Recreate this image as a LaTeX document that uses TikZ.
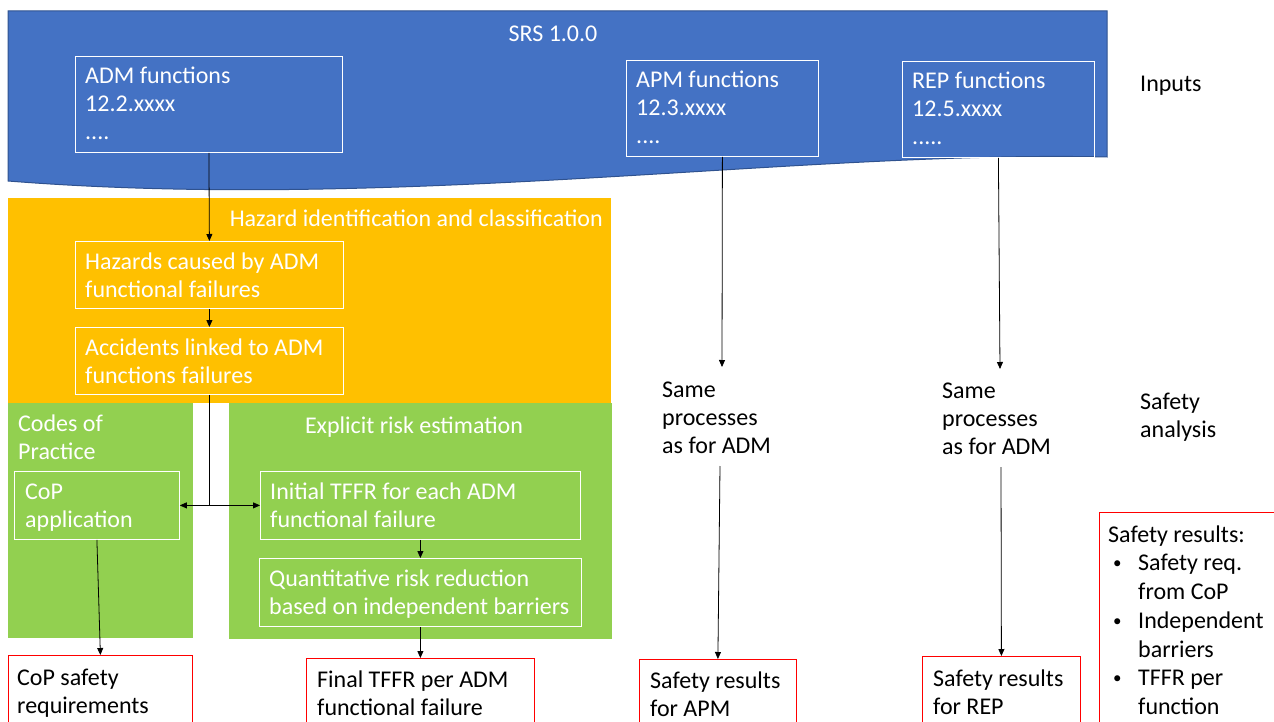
\documentclass[tikz,border=0pt]{standalone}
\usepackage{fontspec}
\setmainfont{Carlito}
\usetikzlibrary{arrows.meta}
\definecolor{srsblue}{HTML}{4472C4}
\definecolor{srsedge}{HTML}{2F528F}
\definecolor{hazorange}{HTML}{FFC000}
\definecolor{riskgreen}{HTML}{92D050}
\newcommand{\listbullet}{\hspace*{5pt}\makebox[25pt][l]{\raisebox{2pt}{\fontsize{17}{17}\selectfont\textbullet}}}
\begin{document}
\begin{tikzpicture}[x=1pt,y=-1pt,
  txt/.style={font=\fontsize{24}{28}\selectfont, inner sep=0pt, anchor=north west, align=left},
  wtxt/.style={txt, text=white},
  inbox/.style={draw=white, line width=0.8pt, inner sep=0pt, anchor=north west},
  outbox/.style={draw=red, line width=0.8pt, fill=white, inner sep=0pt, anchor=north west},
  arr/.style={draw=black, line width=0.8pt, -{Triangle[length=7pt,width=6pt]}},
]
\useasboundingbox (0,0) rectangle (1274,722);
\begin{scope}
\clip (0,0) rectangle (1274,722);

% ---------- SRS banner ----------
\path[fill=srsblue, draw=srsedge, line width=1pt]
  (8,11) -- (1107,11) -- (1107,157) .. controls (800,150) and (400,212) .. (8,181) -- cycle;
\node[wtxt, anchor=north] (srs) at (553,21.5) {\strut SRS 1.0.0};

\node[inbox, minimum width=267pt, minimum height=96pt] (adm) at (75,56) {};
\node[wtxt] (admtxt) at ([shift={(10,8)}]adm.north west)
  {\strut ADM functions\\\strut 12.2.xxxx\\\strut ....};
\node[inbox, minimum width=192pt, minimum height=96pt] (apm) at (626,60) {};
\node[wtxt] (apmtxt) at ([shift={(10,8)}]apm.north west)
  {\strut APM functions\\\strut 12.3.xxxx\\\strut ....};
\node[inbox, minimum width=192pt, minimum height=96pt] (rep) at (902,61) {};
\node[wtxt] (reptxt) at ([shift={(10,8)}]rep.north west)
  {\strut REP functions\\\strut 12.5.xxxx\\\strut .....};

\node[txt] (inputs) at (1140,71.5) {\strut Inputs};

% ---------- Hazard identification ----------
\fill[hazorange] (8,198) rectangle (611,403);
\node[wtxt, anchor=north east] (hazttl) at (603,206.5)
  {\strut Hazard identification and classification};
\node[inbox, minimum width=268pt, minimum height=67pt] (haz) at (75,241) {};
\node[wtxt] (haztxt) at ([shift={(10,9)}]haz.north west)
  {\strut Hazards caused by ADM\\\strut functional failures};
\node[inbox, minimum width=268pt, minimum height=67pt] (acc) at (75,327) {};
\node[wtxt] (acctxt) at ([shift={(10,9)}]acc.north west)
  {\strut Accidents linked to ADM\\\strut functions failures};

% ---------- Codes of Practice ----------
\fill[riskgreen] (8,403) rectangle (193,638);
\node[wtxt] (copttl) at (18,412) {\strut Codes of\\\strut Practice};
\node[inbox, minimum width=165pt, minimum height=68pt] (cop) at (14,471) {};
\node[wtxt] (coptxt) at ([shift={(11,9)}]cop.north west)
  {\strut CoP\\\strut application};

% ---------- Explicit risk estimation ----------
\fill[riskgreen] (229,403) rectangle (612,639);
\node[wtxt, anchor=north] (estttl) at (414,414) {\strut Explicit risk estimation};
\node[inbox, minimum width=320pt, minimum height=68pt] (init) at (260,471) {};
\node[wtxt] (inittxt) at ([shift={(10,9)}]init.north west)
  {\strut Initial TFFR for each ADM\\\strut functional failure};
\node[inbox, minimum width=322pt, minimum height=68pt] (quant) at (259,558) {};
\node[wtxt] (quanttxt) at ([shift={(10,9)}]quant.north west)
  {\strut Quantitative risk reduction\\\strut based on independent barriers};

% ---------- Other functions ----------
\node[txt] (apmsame) at (662,378) {\strut Same\\\strut processes\\\strut as for ADM};
\node[txt] (repsame) at (942,379) {\strut Same\\\strut processes\\\strut as for ADM};
\node[txt] (analysis) at (1140,390) {\strut Safety\\\strut analysis};
\coordinate (apmin) at (722,367);
\coordinate (apmout) at (720,466);
\coordinate (repin) at (1000,369);
\coordinate (repout) at (1001,467);

% ---------- Results ----------
\node[outbox, minimum width=184pt, minimum height=80pt] (copres) at (8,655) {};
\node[txt] (coprestxt) at ([shift={(9,11)}]copres.north west)
  {\strut CoP safety\\\strut requirements};
\node[outbox, minimum width=228pt, minimum height=80pt] (finres) at (306,658) {};
\node[txt] (finrestxt) at ([shift={(11,10)}]finres.north west)
  {\strut Final TFFR per ADM\\\strut functional failure};
\node[outbox, minimum width=157pt, minimum height=80pt] (apmres) at (639,659) {};
\node[txt] (apmrestxt) at ([shift={(11,10)}]apmres.north west)
  {\strut Safety results\\\strut for APM};
\node[outbox, minimum width=158pt, minimum height=80pt] (repres) at (922,656) {};
\node[txt] (represtxt) at ([shift={(11,11)}]repres.north west)
  {\strut Safety results\\\strut for REP};
\node[outbox, minimum width=200pt, minimum height=230pt] (allres) at (1099,512) {};
\node[txt, font=\fontsize{24}{28.7}\selectfont] (allrestxt) at ([shift={(9,10)}]allres.north west)
  {\strut Safety results:\\
   \strut\listbullet Safety req.\\
   \strut\hspace*{30pt}from CoP\\
   \strut\listbullet Independent\\
   \strut\hspace*{30pt}barriers\\
   \strut\listbullet TFFR per\\
   \strut\hspace*{30pt}function};

% ---------- Connectors ----------
\draw[arr] (adm.south) -- (haz.north);
\draw[arr] (haz.south) -- (acc.north);
\draw[arr] (acc.south) |- (cop.east);
\draw[arr] (acc.south) |- (init.west);
\draw[arr] (cop.south) -- (copres.north);
\draw[arr] (init.south) -- (quant.north);
\draw[arr] (quant.south) -- (finres.north);
\draw[arr] (apm.south) -- (apmin);
\draw[arr] (apmout) -- (apmres.north);
\draw[arr] (rep.south) -- (repin);
\draw[arr] (repout) -- (repres.north);
\end{scope}
\end{tikzpicture}
\end{document}
